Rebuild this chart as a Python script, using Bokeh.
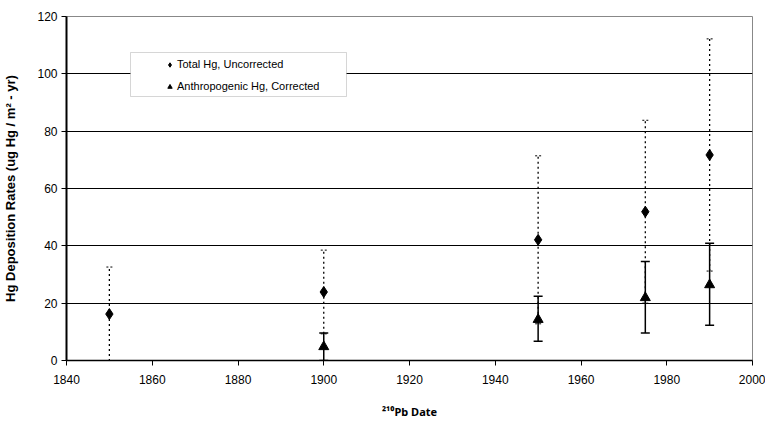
from bokeh.plotting import figure
from bokeh.models import Whisker, ColumnDataSource, Legend, LegendItem, BoxAnnotation, FixedTicker, Range1d
from bokeh.embed import file_html
from bokeh.resources import INLINE

# Data
total_years = [1850, 1900, 1950, 1975, 1990]
total_hg = [16.2, 23.9, 42.1, 51.9, 71.7]
total_lower = [-0.2, 9.3, 12.8, 20.0, 31.2]
total_upper = [32.6, 38.5, 71.4, 83.8, 112.2]

anthro_years = [1900, 1950, 1975, 1990]
anthro_hg = [4.8, 14.3, 21.9, 26.4]
anthro_lower = [0.0, 6.7, 9.6, 12.3]
anthro_upper = [9.6, 22.4, 34.5, 40.9]

x_ticks = [1840, 1860, 1880, 1900, 1920, 1940, 1960, 1980, 2000]
y_ticks = [0, 20, 40, 60, 80, 100, 120]

FONT = "Liberation Sans"

p = figure(width=765, height=421, output_backend="svg", toolbar_location=None,
           x_range=Range1d(1840, 2000), y_range=Range1d(0, 120),
           min_border_left=66, min_border_right=13, min_border_top=16, min_border_bottom=60)

p.outline_line_color = "#888888"
p.outline_line_width = 1
p.background_fill_color = "white"
p.border_fill_color = "white"

p.xgrid.visible = False
p.ygrid.grid_line_color = "black"
p.ygrid.grid_line_width = 1.2

for ax in (p.xaxis[0], p.yaxis[0]):
    ax.major_label_text_font = FONT
    ax.major_label_text_font_size = "12px"
    ax.major_label_text_color = "black"
    ax.axis_line_color = "black"
    ax.major_tick_line_color = "black"
    ax.major_tick_out = 5
    ax.major_tick_in = 0
    ax.minor_tick_line_color = None
    ax.axis_label_text_font = FONT
    ax.axis_label_text_font_style = "bold"
    ax.axis_label_text_color = "black"

p.xaxis.ticker = FixedTicker(ticks=x_ticks)
p.yaxis.ticker = FixedTicker(ticks=y_ticks)
p.yaxis.axis_line_width = 2
p.xaxis.axis_line_width = 1.5
p.xaxis.major_label_standoff = 9
p.yaxis.major_label_standoff = 4

p.xaxis.axis_label = "²¹⁰Pb Date"
p.xaxis.axis_label_text_font = "Noto Sans"
p.xaxis.axis_label_text_font_size = "11px"
p.xaxis.axis_label_standoff = 17
p.yaxis.axis_label = "Hg Deposition Rates (ug Hg / m² - yr)"
p.yaxis.axis_label_text_font_size = "13px"
p.yaxis.axis_label_standoff = 16

src_t = ColumnDataSource(dict(x=total_years, y=total_hg, lo=total_lower, hi=total_upper))
src_a = ColumnDataSource(dict(x=anthro_years, y=anthro_hg, lo=anthro_lower, hi=anthro_upper))

w_t = Whisker(source=src_t, base="x", lower="lo", upper="hi",
              line_color="black", line_width=1.3, line_dash="2 3")
w_t.upper_head.size = 6
w_t.lower_head.size = 6
w_t.upper_head.line_dash = "2 2"
w_t.lower_head.line_dash = "2 2"
w_t.upper_head.line_width = 1
w_t.lower_head.line_width = 1
p.add_layout(w_t)

w_a = Whisker(source=src_a, base="x", lower="lo", upper="hi",
              line_color="black", line_width=1.5)
w_a.upper_head.size = 9
w_a.lower_head.size = 9
w_a.upper_head.line_width = 1.5
w_a.lower_head.line_width = 1.5
p.add_layout(w_a)

r_t = p.scatter("x", "y", source=src_t, marker="diamond", size=11,
                fill_color="black", line_color="black")
r_a = p.scatter("x", "y", source=src_a, marker="triangle", size=10,
                fill_color="black", line_color="black")

box = BoxAnnotation(left=130, right=346, top=52, bottom=96,
                    left_units="canvas", right_units="canvas",
                    top_units="canvas", bottom_units="canvas",
                    fill_color="white", fill_alpha=1,
                    line_color="#777777", line_width=1)
p.add_layout(box)

legend = Legend(items=[LegendItem(label="Total Hg, Uncorrected", renderers=[r_t]),
                       LegendItem(label="Anthropogenic Hg, Corrected", renderers=[r_a])],
                location=(98, 267), orientation="vertical",
                label_text_font=FONT, label_text_font_size="11px", label_text_color="black",
                glyph_width=11, glyph_height=11, label_height=14, label_standoff=2,
                spacing=8, padding=0, margin=0,
                background_fill_alpha=0, border_line_alpha=0)
p.add_layout(legend)

open("out.html", "w").write(file_html(p, INLINE))
